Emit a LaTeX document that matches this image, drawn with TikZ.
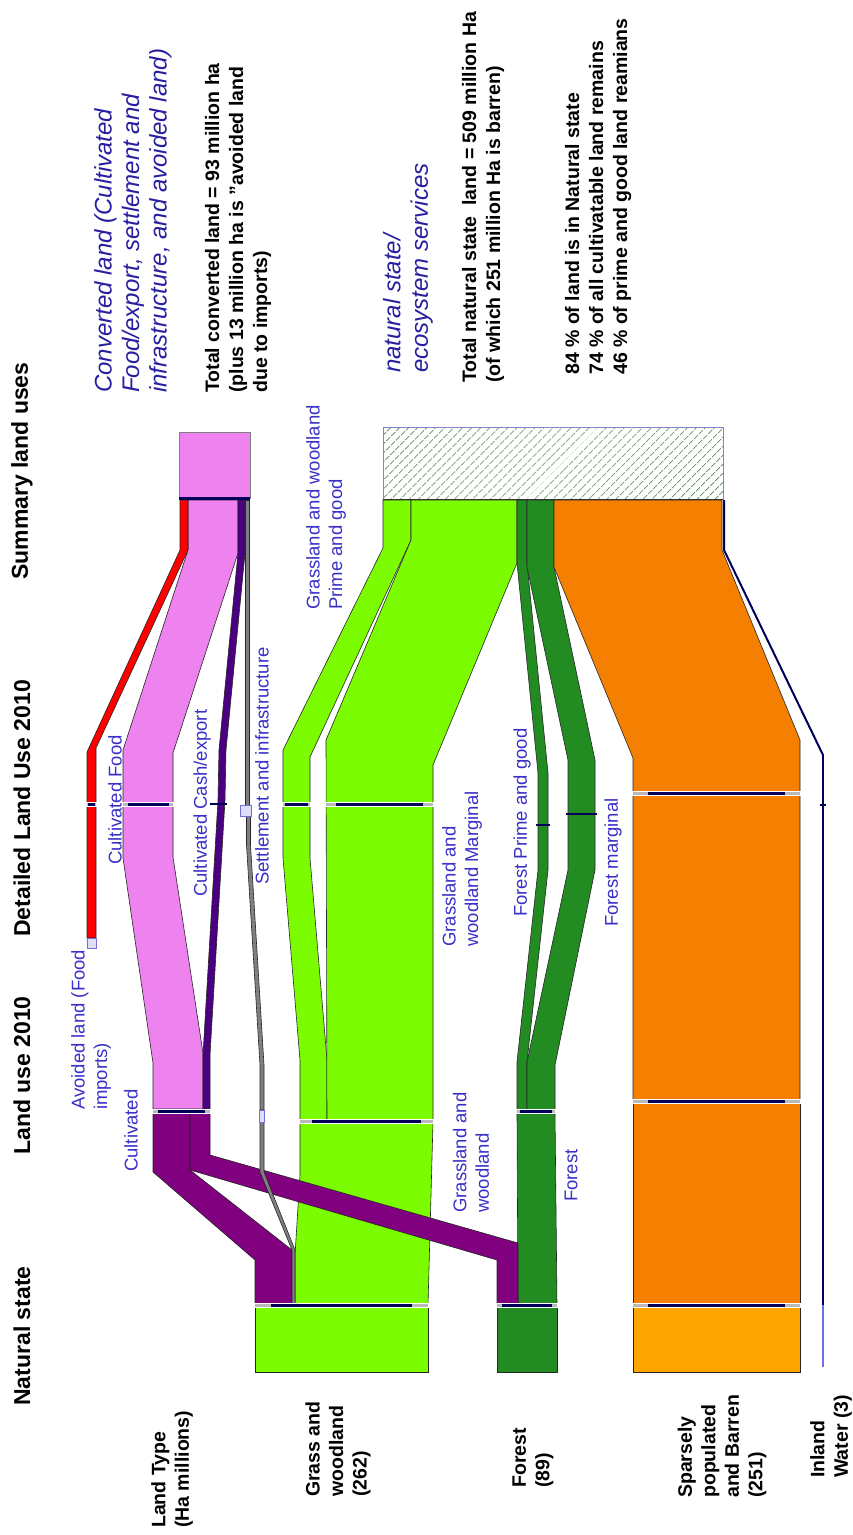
\documentclass[tikz,border=0pt]{standalone}
\usepackage{fontspec}
\setmainfont{Liberation Sans}
\usetikzlibrary{patterns.meta}
\definecolor{cultpurple}{RGB}{128,0,128}
\definecolor{foodpink}{RGB}{238,130,238}
\definecolor{cashindigo}{RGB}{75,0,130}
\definecolor{grassgreen}{RGB}{124,252,0}
\definecolor{forestgreen}{RGB}{34,139,34}
\definecolor{barrenorange}{RGB}{245,127,0}
\definecolor{sparseorange}{RGB}{255,165,0}
\definecolor{barnavy}{RGB}{0,0,90}
\definecolor{waterblue}{RGB}{112,112,224}
\definecolor{labblue}{RGB}{58,48,200}
\definecolor{noteblue}{RGB}{40,30,160}
\definecolor{boxblue}{RGB}{222,222,250}
\definecolor{hatchgreen}{RGB}{90,145,90}
\definecolor{hatchedge}{RGB}{130,130,205}
% node bar of the sankey: x1, x2, y
\newcommand\nodebar[3]{%
  \pgfmathsetmacro\barin{0.09*(#2-#1)}
  \fill[white] (#1-1,#3-2.5) rectangle (#2+1,#3+2.5);
  \draw[gray!55,line width=3pt] (#1,#3) -- (#2,#3);
  \draw[barnavy,line width=3pt] (#1+\barin,#3) -- (#2-\barin,#3);}

\begin{document}
\begin{tikzpicture}[x=1pt,y=-1pt,
  flowband/.style={draw=black!85,line width=0.6pt},
  hdr/.style={rotate=90,anchor=west,inner sep=0pt,font=\fontsize{23}{27}\selectfont\bfseries},
  landlab/.style={rotate=90,anchor=west,inner sep=0pt,align=left,font=\fontsize{19.5}{23.5}\selectfont\bfseries},
  flowlab/.style={rotate=90,anchor=west,inner sep=0pt,align=left,text=labblue,font=\fontsize{18.5}{22.5}\selectfont},
  notetext/.style={rotate=90,anchor=west,inner sep=0pt,align=left,font=\fontsize{19.5}{24}\selectfont\bfseries},
  noteital/.style={rotate=90,anchor=west,inner sep=0pt,align=left,text=noteblue,font=\fontsize{24}{27.5}\selectfont\itshape}]
		%%%%% START %%%%%
		\fill[white] (0,0) rectangle (853,1535);
		\useasboundingbox (0,0) rectangle (853,1535);
		
		% natural state
		\draw[flowband,fill=grassgreen] (255,1305) rectangle (428,1372);
		\draw[flowband,fill=forestgreen] (497,1305) rectangle (557,1372);
		\draw[flowband,fill=sparseorange] (633,1305) rectangle (800,1372);
		\draw[waterblue,line width=2.5pt] (823,1305) -- (823,1367);
		
		% natural state -> land use 2010
		\draw[flowband,fill=grassgreen] (295,1305) -- (295,1255) -- (300,1175) -- (300,1122) -- (433,1122) -- (428,1305) -- cycle;
		\draw[flowband,fill=cultpurple] (255,1305) -- (255,1260) -- (153,1172) -- (153,1113) -- (190,1113) -- (190,1170) -- (292,1250) -- (292,1305) -- cycle;
		\draw[flowband,fill=forestgreen] (518,1305) -- (517,1113) -- (555,1113) -- (557,1305) -- cycle;
		\draw[flowband,fill=cultpurple] (497,1305) -- (497,1260) -- (190,1170) -- (190,1113) -- (210,1113) -- (210,1155) -- (518,1243) -- (518,1305) -- cycle;
		\draw[flowband,fill=gray] (292,1305) -- (292,1250) -- (260,1172) -- (260,1122) -- (264,1122) -- (264,1172) -- (295,1250) -- (295,1305) -- cycle;
		\draw[flowband,fill=barrenorange] (633,1102) rectangle (800,1305);
		\draw[barnavy,line width=2pt] (823,755) -- (823,1305);
		
		% land use 2010 -> detailed -> summary
		\draw[flowband,fill=foodpink] (153,1109) -- (153,1063) -- (123,858) -- (123,750) -- (188,550) -- (188,500) -- (238,500) -- (238,553) -- (173,753) -- (173,857) -- (203,1053) -- (203,1109) -- cycle;
		\draw[flowband,fill=cashindigo] (203,1109) -- (203,1055) -- (218,800) -- (219,750) -- (238,553) -- (238,500) -- (245,500) -- (245,553) -- (226,750) -- (225,800) -- (210,1055) -- (210,1109) -- cycle;
		\draw[flowband,fill=gray] (260,1110) -- (260,1065) -- (246.5,845) -- (246.5,816) -- (250.5,816) -- (250.5,845) -- (264,1065) -- (264,1110) -- cycle;
		\draw[flowband,fill=gray] (245,500) rectangle (249.5,805);
		\draw[flowband,fill=red] (87,938) -- (87,752) -- (180,550) -- (180,500) -- (188,500) -- (188,550) -- (96,748) -- (96,938) -- cycle;
		\draw[flowband,fill=grassgreen] (300,1120) -- (300,1060) -- (283,858) -- (283,750) -- (383,548) -- (383,500) -- (411,500) -- (411,540) -- (310,757) -- (310,858) -- (327,1060) -- (327,1120) -- cycle;
		\draw[flowband,fill=grassgreen] (327,1120) -- (326,740) -- (411,540) -- (411,500) -- (517,500) -- (517,563) -- (433,765) -- (433,1120) -- cycle;
		\draw[flowband,fill=forestgreen] (517,1111) -- (517,1062) -- (538,870) -- (538,773) -- (517,563) -- (517,500) -- (527,500) -- (527,563) -- (548,773) -- (548,870) -- (527,1062) -- (527,1111) -- cycle;
		\draw[flowband,fill=forestgreen] (527,1111) -- (527,1062) -- (568,870) -- (568,760) -- (527,567) -- (527,500) -- (554,500) -- (554,567) -- (595,760) -- (595,870) -- (555,1065) -- (555,1111) -- cycle;
		\draw[flowband,fill=barrenorange] (633,1101) -- (633,758) -- (554,567) -- (554,500) -- (722,500) -- (722,550) -- (800,740) -- (800,1101) -- cycle;
		\draw[barnavy,line width=2pt] (724,500) -- (724,550) -- (823,755);
		
		% summary boxes
		\draw[draw=gray,fill=foodpink] (179,432) rectangle (250,498);
		\draw[barnavy,line width=3pt] (179,498) -- (250,498);
		\draw[draw=hatchedge,line width=0.9pt,pattern={Lines[angle=45,distance=6.5pt,line width=1.1pt]},pattern color=hatchgreen] (383,427) rectangle (723,499);
		\draw[black!80,line width=0.8pt] (383,499) -- (723,499);
		
		% bars: natural state, land use, detailed
		\nodebar{255}{428}{1305}
		\nodebar{497}{557}{1305}
		\nodebar{633}{800}{1305}
		\nodebar{153}{210}{1111}
		\nodebar{300}{433}{1121}
		\nodebar{517}{555}{1111}
		\nodebar{633}{800}{1101}
		\draw[draw=waterblue,fill=boxblue] (259.5,1110) rectangle (264.5,1122);
		\nodebar{87}{96}{804}
		\nodebar{123}{173}{804}
		\draw[barnavy,line width=2pt] (210,804) -- (227,804);
		\draw[draw=waterblue,fill=boxblue] (240,805) rectangle (251,816);
		\draw[draw=waterblue,fill=boxblue] (87,938) rectangle (96,948);
		\nodebar{283}{310}{804}
		\nodebar{326}{433}{804}
		\draw[barnavy,line width=2.5pt] (536,825) -- (550,825);
		\draw[barnavy,line width=2.5pt] (566,814) -- (597,814);
		\nodebar{633}{800}{793}
		\draw[barnavy,line width=1.5pt] (820,805) -- (826,805);
		
		% column headings
		\node[hdr] (hnat) at (22,1406) {Natural state};
		\node[hdr] (hland) at (22,1155) {Land use 2010};
		\node[hdr] (hdetail) at (22,937) {Detailed Land Use 2010};
		\node[hdr] (hsum) at (22,580) {Summary land uses};
		
		% land types
		\node[landlab] (ltype) at (172,1528) {Land Type\\(Ha millions)};
		\node[landlab] (lgrass) at (338,1497) {Grass and\\woodland\\(262)};
		\node[landlab] (lforest) at (533,1488) {Forest\\(89)};
		\node[landlab] (lbarren) at (722,1498) {Sparsely\\populated\\and Barren\\(251)};
		\node[landlab] (lwater) at (831,1478) {Inland\\Water (3)};
		
		% flow labels
		\node[flowlab] (fcult) at (131,1172) {Cultivated};
		\node[flowlab] (favoid) at (91,1110) {Avoided land (Food\\imports)};
		\node[flowlab] (ffood) at (115,865) {Cultivated Food};
		\node[flowlab] (fcash) at (202,897) {Cultivated Cash/export};
		\node[flowlab] (fsettle) at (262,885) {Settlement and infrastructure};
		\node[flowlab] (fgprime) at (326,610) {Grassland and woodland\\Prime and good};
		\node[flowlab] (fgmarg) at (462,947) {Grassland and\\woodland Marginal};
		\node[flowlab] (ffprime) at (522,917) {Forest Prime and good};
		\node[flowlab] (ffmarg) at (613,927) {Forest marginal};
		\node[flowlab] (fgrass) at (471,1213) {Grassland and\\woodland};
		\node[flowlab] (fforest) at (571,1202) {Forest};
		
		% summary notes
		\node[noteital] (nconv) at (133,393) {Converted land (Cultivated\\Food/export, settlement and\\infrastructure, and avoided land)};
		\node[notetext] (ntotconv) at (238,393) {Total converted land = 93 million ha\\(plus 13 million ha is "avoided land\\due to imports)};
		\node[noteital] (nnat) at (408,373) {natural state/\\ecosystem services};
		\node[notetext] (ntotnat) at (483,383) {Total natural state\ \ land = 509 million Ha\\(of which 251 million Ha is barren)};
		\node[notetext] (npct) at (598,375) {84 \% of land is in Natural state\\74 \% of all cultivatable land remains\\46 \% of prime and good land reamians};
		%%%%% END %%%%%
\end{tikzpicture}
\end{document}
